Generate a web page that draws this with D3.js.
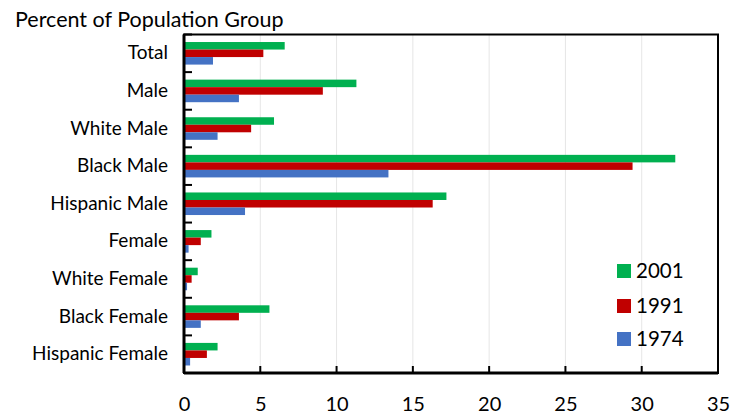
<!DOCTYPE html>
<html><head><meta charset="utf-8">
<script src="https://cdn.jsdelivr.net/npm/d3@7/dist/d3.min.js"></script>
<style>body{margin:0;background:#fff;}svg{display:block;font-family:Lato,"Open Sans",sans-serif;}</style>
</head><body><svg id="c" width="732" height="417"></svg>
<script>
const categories = ["Total","Male","White Male","Black Male","Hispanic Male","Female","White Female","Black Female","Hispanic Female"];
const seriesNames = ["2001","1991","1974"];
const values2001 = [6.6, 11.3, 5.9, 32.2, 17.2, 1.8, 0.9, 5.6, 2.2];
const values1991 = [5.2, 9.1, 4.4, 29.4, 16.3, 1.1, 0.5, 3.6, 1.5];
const values1974 = [1.9, 3.6, 2.2, 13.4, 4.0, 0.3, 0.2, 1.1, 0.4];
const xTicks = [0,5,10,15,20,25,30,35];
const colors = ["#00B050","#C00000","#4472C4"];
const title = "Percent of Population Group";

const svg = d3.select("#c");
const L=184, R=718, T=34.5, B=373;
const x = d3.scaleLinear().domain([0,35]).range([L,R]);
const y = d3.scaleBand().domain(categories).range([T,B]).paddingInner(0.4).paddingOuter(0.2);
const ys = d3.scaleBand().domain(seriesNames).range([0,y.bandwidth()]);
const series = [values2001, values1991, values1974];

// gridlines
svg.append("g").selectAll("line").data(xTicks.slice(1,-1)).join("line")
  .attr("x1",d=>x(d)).attr("x2",d=>x(d)).attr("y1",T).attr("y2",B)
  .attr("stroke","#e6e6e6").attr("stroke-width",1);

// bars
categories.forEach((c,i)=>{
  series.forEach((s,j)=>{
    svg.append("rect").attr("x",x(0)).attr("y",y(c)+ys(seriesNames[j]))
      .attr("width",x(s[i])-x(0)).attr("height",ys.bandwidth())
      .attr("fill",colors[j]);
  });
});

// frame
svg.append("rect").attr("x",L).attr("y",T).attr("width",R-L).attr("height",B-T)
  .attr("fill","none").attr("stroke","#000").attr("stroke-width",2);
svg.append("line").attr("x1",L).attr("x2",L).attr("y1",T).attr("y2",B).attr("stroke","#000").attr("stroke-width",3);
svg.append("line").attr("x1",L).attr("x2",R).attr("y1",B).attr("y2",B).attr("stroke","#000").attr("stroke-width",3);

// bottom axis
const xAxis = d3.axisBottom(x).tickValues(xTicks).tickSize(0).tickPadding(24);
const gx = svg.append("g").attr("transform",`translate(0,${B})`).call(xAxis);
gx.select(".domain").remove();
gx.selectAll("text").attr("font-size",20).attr("fill","#000").attr("font-family","Lato");
svg.append("g").selectAll("line").data(xTicks.slice(1,-1)).join("line")
  .attr("x1",d=>x(d)).attr("x2",d=>x(d)).attr("y1",B).attr("y2",B-7)
  .attr("stroke","#000").attr("stroke-width",2);

// left category ticks at boundaries
const step = (B-T)/categories.length;
const bounds = d3.range(categories.length).map(i=>T+i*step);
svg.append("g").selectAll("line").data(bounds).join("line")
  .attr("x1",L).attr("x2",L+8).attr("y1",d=>d).attr("y2",d=>d)
  .attr("stroke","#000").attr("stroke-width",2);

// category labels
const yAxis = d3.axisLeft(y).tickSize(0).tickPadding(16);
const gy = svg.append("g").attr("transform",`translate(${L},0)`).call(yAxis);
gy.select(".domain").remove();
gy.selectAll("text").attr("font-size",19).attr("fill","#000").attr("font-family","Lato");

// title
svg.append("text").attr("x",15).attr("y",26.5).attr("font-size",21.5).attr("fill","#000").text(title);

// legend
const legY = [271, 306, 339];
seriesNames.forEach((n,j)=>{
  svg.append("rect").attr("x",617).attr("y",legY[j]-7).attr("width",14).attr("height",14).attr("fill",colors[j]);
  svg.append("text").attr("x",636).attr("y",legY[j]).attr("dy","0.35em").attr("font-size",20.5).attr("fill","#000").text(n);
});
</script></body></html>
